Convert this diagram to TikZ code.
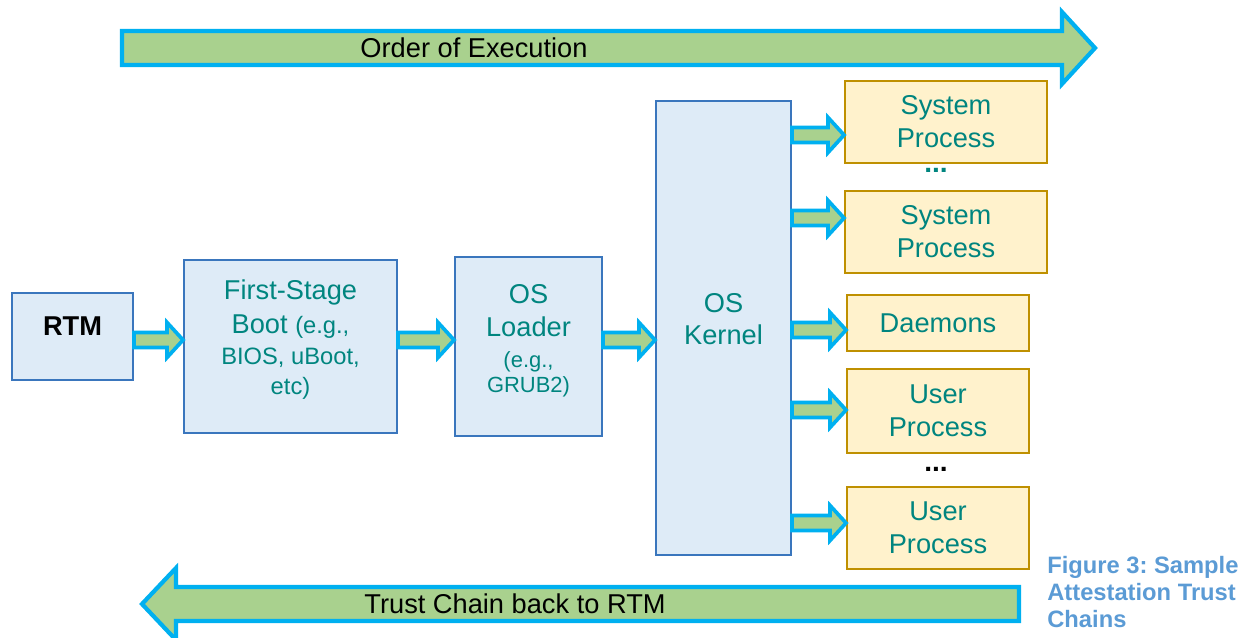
\documentclass[tikz,border=0pt]{standalone}
\usepackage{fontspec}
\setmainfont{Liberation Sans}
\usetikzlibrary{calc}
\frenchspacing

\definecolor{boxblue}{HTML}{DEEBF7}
\definecolor{boxedge}{HTML}{3A76BD}
\definecolor{procfill}{HTML}{FFF2CC}
\definecolor{procedge}{HTML}{BF9000}
\definecolor{arrowfill}{HTML}{A9D18E}
\definecolor{arrowedge}{HTML}{00B0F0}
\definecolor{tealtext}{HTML}{00857F}
\definecolor{captionblue}{HTML}{5B9BD5}

\newcommand{\egfont}{\fontsize{13.5}{17}\selectfont}
\newcommand{\egsmallfont}{\fontsize{12.5}{14.2}\selectfont}
\newcommand{\fatarrow}[3]{%
  \draw[fatarrow] let \p1=(#1.east), \p2=(#2.west), \p3=(0,#3) in
    (\x1,\y3+0.15cm) -- (\x2-0.32cm,\y3+0.15cm) -- (\x2-0.32cm,\y3+0.35cm) -- (\x2,\y3)
    -- (\x2-0.32cm,\y3-0.35cm) -- (\x2-0.32cm,\y3-0.15cm) -- (\x1,\y3-0.15cm) -- cycle;}

\tikzset{
  kbox/.style={draw=boxedge, fill=boxblue, line width=1.1pt, align=center,
    text=tealtext, inner sep=0pt, font=\fontsize{15.5}{18.7}\selectfont},
  pbox/.style={draw=procedge, fill=procfill, line width=1.1pt, align=center,
    text=tealtext, inner sep=0pt, font=\fontsize{15.5}{18.7}\selectfont},
  fatarrow/.style={draw=arrowedge, fill=arrowfill, line width=2.1pt},
  bigarrow/.style={draw=arrowedge, fill=arrowfill, line width=2.4pt},
  dots/.style={inner sep=0pt, font=\bfseries\fontsize{16}{18.7}\selectfont}
}

\begin{document}
\begin{tikzpicture}[x=0.02cm, y=-0.02cm]
    \useasboundingbox (0,0) rectangle (1241,638);

    \draw[bigarrow] (122,31) -- (1062,31) -- (1062,12) -- (1095,48) -- (1062,84) -- (1062,65) -- (122,65) -- cycle;
    \node[font=\fontsize{15.5}{18.7}\selectfont] (order) at (474,48) {Order of Execution};

    \node[kbox, text=black, font=\bfseries\fontsize{15.5}{18.7}\selectfont, text depth=0.4cm,
      minimum width=2.42cm, minimum height=1.74cm] (rtm) at (72.5,336.5) {RTM};
    \node[kbox, text depth=0.38cm, minimum width=4.26cm, minimum height=3.46cm] (boot) at (290.5,346.5)
      {First-Stage\\[1.1pt]Boot {\egfont (e.g.,}\\[-1.1pt]{\egfont BIOS, uBoot,}\\[-1.7pt]{\egfont etc)}};
    \node[kbox, text depth=0.33cm, minimum width=2.94cm, minimum height=3.58cm] (loader) at (528.5,346.5)
      {OS\\Loader\\[-1.1pt]{\egsmallfont (e.g.,}\\[-4.5pt]{\egsmallfont GRUB2)}};
    \node[kbox, text depth=0.36cm, minimum width=2.70cm, minimum height=9.08cm] (kernel) at (723.5,328) {OS\\Kernel};

    \node[pbox, minimum width=4.04cm, minimum height=1.64cm] (sys1) at (946,122) {System\\Process};
    \node[dots, text=tealtext] (dots1) at (936,170) {...};
    \node[pbox, minimum width=4.04cm, minimum height=1.64cm] (sys2) at (946,232) {System\\Process};
    \node[pbox, minimum width=3.64cm, minimum height=1.12cm] (daemons) at (938,323) {Daemons};
    \node[pbox, minimum width=3.64cm, minimum height=1.68cm] (user1) at (938,411) {User\\Process};
    \node[dots] (dots2) at (936,469) {...};
    \node[pbox, minimum width=3.64cm, minimum height=1.64cm] (user2) at (938,528) {User\\Process};

    \fatarrow{rtm}{boot}{340}
    \fatarrow{boot}{loader}{340}
    \fatarrow{loader}{kernel}{340}
    \fatarrow{kernel}{sys1}{135}
    \fatarrow{kernel}{sys2}{218}
    \fatarrow{kernel}{daemons}{330}
    \fatarrow{kernel}{user1}{410}
    \fatarrow{kernel}{user2}{523}

    \draw[bigarrow] (1019,587) -- (176,587) -- (176,568) -- (142,604) -- (176,640) -- (176,621) -- (1019,621) -- cycle;
    \node[font=\fontsize{15.5}{18.7}\selectfont] (trust) at (515,604) {Trust Chain back to RTM};

    \node[anchor=west, align=left, inner sep=0pt, text=captionblue, font=\bfseries\fontsize{13.5}{15.3}\selectfont] (caption) at (1047,592)
      {Figure 3: Sample\\Attestation Trust\\Chains};
\end{tikzpicture}
\end{document}
